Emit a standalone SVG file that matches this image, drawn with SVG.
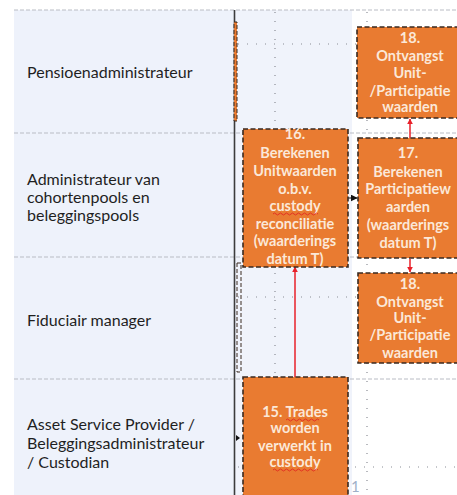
<svg xmlns="http://www.w3.org/2000/svg" width="457" height="495" viewBox="0 0 457 495">
<defs>
<style>
.lane{font-family:Lato,"Liberation Sans",sans-serif;font-size:16px;fill:#1f1f1f}
.bt{font-family:Lato,"Liberation Sans",sans-serif;font-size:14.5px;font-weight:bold;fill:#fbe8d8;text-anchor:middle}
.box{fill:#e97b31;stroke:#3a2a20;stroke-width:1.6;stroke-dasharray:5 2.5}
.lanesep{stroke:#b9bcc4;stroke-width:1;stroke-dasharray:4 2}
.dots{stroke:#8a8d95;stroke-width:1.2;stroke-dasharray:1 8;fill:none}
.red{stroke:#e8202a;stroke-width:1.5;fill:none}
.wavy{stroke:#e02020;stroke-width:0.8;fill:none}
</style>
<marker id="ra" viewBox="0 0 10 10" refX="9" refY="5" markerWidth="6" markerHeight="6" orient="auto-start-reverse" markerUnits="userSpaceOnUse">
<path d="M0,0 L10,5 L0,10 z" fill="#e8202a"/>
</marker>
<marker id="ba" viewBox="0 0 10 10" refX="9" refY="5" markerWidth="7" markerHeight="7" orient="auto" markerUnits="userSpaceOnUse">
<path d="M0,0 L10,5 L0,10 z" fill="#111"/>
</marker>
</defs>
<rect width="457" height="495" fill="#ffffff"/>
<g id="background">
<rect x="14" y="10" width="220" height="485" fill="#eef2fb"/>
<rect x="234" y="10" width="118" height="485" fill="#f0f3fb"/>
<line class="dots" x1="275" y1="12" x2="275" y2="495"/>
<line class="dots" x1="367" y1="12" x2="367" y2="495"/>
<line class="dots" x1="238" y1="44" x2="357" y2="44"/>
<line class="dots" x1="238" y1="297" x2="380" y2="297"/>
<line class="dots" x1="238" y1="467" x2="457" y2="467"/>
<line class="lanesep" x1="14" y1="10" x2="457" y2="10"/>
<line class="lanesep" x1="14" y1="133" x2="457" y2="133"/>
<line class="lanesep" x1="14" y1="257" x2="457" y2="257"/>
<line class="lanesep" x1="14" y1="379" x2="457" y2="379"/>
<line x1="234.5" y1="10" x2="234.5" y2="495" stroke="#3c3c3c" stroke-width="1.6"/>
<rect x="234" y="22" width="3" height="99" fill="#e97b31" stroke="#3a2a20" stroke-width="1" stroke-dasharray="4 2"/>
<rect x="237" y="263" width="4" height="109" fill="none" stroke="#3a2a20" stroke-width="1" stroke-dasharray="4 2"/>
<path d="M236,435 L240,438 L236,441 z" fill="#111"/>
<text x="351" y="492" font-family="Lato,'Liberation Sans',sans-serif" font-size="15" fill="#9fb0c8">1</text>
</g>
<g id="lanes">
<text class="lane" x="27" y="78">Pensioenadministrateur</text>
<text class="lane" x="27" y="185">Administrateur van</text>
<text class="lane" x="27" y="203">cohortenpools en</text>
<text class="lane" x="27" y="221">beleggingspools</text>
<text class="lane" x="27" y="326">Fiduciair manager</text>
<text class="lane" x="27" y="430">Asset Service Provider /</text>
<text class="lane" x="27" y="449">Beleggingsadministrateur</text>
<text class="lane" x="27" y="468">/ Custodian</text>
</g>
<g id="connectors">
<line class="red" x1="410" y1="138" x2="410" y2="119" marker-end="url(#ra)"/>
<line class="red" x1="410" y1="259" x2="410" y2="272" marker-end="url(#ra)"/>
<line class="red" x1="295" y1="377" x2="295" y2="267" marker-end="url(#ra)"/>
<line x1="348" y1="198" x2="357" y2="198" stroke="#111" stroke-width="1" marker-end="url(#ba)"/>
</g>
<g id="node18a">
<rect class="box" x="357" y="27" width="104" height="91"/>
<text class="bt" x="410" y="43">18.</text>
<text class="bt" x="410" y="61">Ontvangst</text>
<text class="bt" x="410" y="78">Unit-</text>
<text class="bt" x="410" y="96">/Participatie</text>
<text class="bt" x="410" y="112">waarden</text>
</g>
<g id="node16">
<rect class="box" x="243" y="129" width="105" height="138"/>
<text class="bt" x="295" y="139">16.</text>
<text class="bt" x="295" y="158">Berekenen</text>
<text class="bt" x="295" y="176">Unitwaarden</text>
<text class="bt" x="295" y="194">o.b.v.</text>
<text class="bt" x="295" y="211">custody</text>
<path class="wavy" d="M273,214 q1.5,-2 3,0 t3,0 t3,0 t3,0 t3,0 t3,0 t3,0 t3,0 t3,0 t3,0 t3,0 t3,0 t3,0 t3,0 t3,0"/>
<text class="bt" x="295" y="229">reconciliatie</text>
<text class="bt" x="295" y="246">(waarderings</text>
<text class="bt" x="295" y="264">datum T)</text>
</g>
<g id="node17">
<rect class="box" x="358" y="138" width="103" height="120"/>
<text class="bt" x="408" y="158">17.</text>
<text class="bt" x="408" y="177">Berekenen</text>
<text class="bt" x="408" y="194">Participatiew</text>
<text class="bt" x="408" y="212">aarden</text>
<text class="bt" x="408" y="230">(waarderings</text>
<text class="bt" x="408" y="248">datum T)</text>
</g>
<g id="node18b">
<rect class="box" x="358" y="273" width="103" height="90"/>
<text class="bt" x="410" y="289">18.</text>
<text class="bt" x="410" y="307">Ontvangst</text>
<text class="bt" x="410" y="323">Unit-</text>
<text class="bt" x="410" y="340">/Participatie</text>
<text class="bt" x="410" y="358">waarden</text>
</g>
<g id="node15">
<rect class="box" x="243" y="377" width="105" height="125"/>
<text class="bt" x="295" y="417">15. Trades</text>
<path class="wavy" d="M286,420 q1.5,-2 3,0 t3,0 t3,0 t3,0 t3,0 t3,0 t3,0 t3,0 t3,0 t3,0 t3,0"/>
<text class="bt" x="295" y="433">worden</text>
<text class="bt" x="295" y="451">verwerkt in</text>
<text class="bt" x="295" y="467">custody</text>
<path class="wavy" d="M273,470 q1.5,-2 3,0 t3,0 t3,0 t3,0 t3,0 t3,0 t3,0 t3,0 t3,0 t3,0 t3,0 t3,0 t3,0 t3,0 t3,0"/>
</g>
</svg>
